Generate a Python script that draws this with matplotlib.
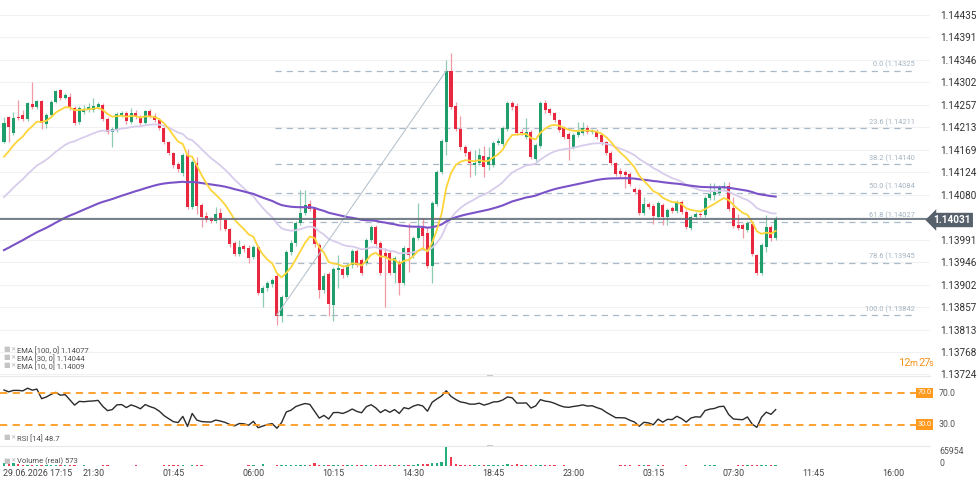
import numpy as np
import matplotlib.pyplot as plt
from matplotlib.patches import Rectangle
from matplotlib.transforms import blended_transform_factory

plt.rcParams['font.family'] = ['Roboto', 'DejaVu Sans']

W, H = 977, 492

# 15 minute EUR/USD candles, 29.06.2026 16:45 -> 30.06.2026 09:45
opens = [
    1.14184, 1.14233, 1.14202, 1.14233, 1.14237, 1.14229, 1.14259, 1.14253, 1.14265, 1.14219, 1.14237, 1.14263, 1.14287, 1.14271, 1.14273,
    1.14251, 1.14223, 1.14243, 1.14247, 1.14247, 1.14253, 1.14257, 1.14229, 1.14204, 1.14208, 1.14237, 1.14241, 1.14223, 1.14241, 1.14233,
    1.14221, 1.14245, 1.14235, 1.14227, 1.14211, 1.14184, 1.14162, 1.14140, 1.14122, 1.14158, 1.14055, 1.14142, 1.14059, 1.14037, 1.14033,
    1.14027, 1.14043, 1.14029, 1.14011, 1.13984, 1.13962, 1.13978, 1.13974, 1.13956, 1.13976, 1.13885, 1.13895, 1.13903, 1.13918, 1.13839,
    1.13877, 1.13966, 1.13984, 1.14023, 1.14043, 1.14061, 1.14051, 1.13980, 1.13891, 1.13922, 1.13861, 1.13930, 1.13932, 1.13920, 1.13940,
    1.13968, 1.13950, 1.13944, 1.13990, 1.14015, 1.13984, 1.13964, 1.13964, 1.13924, 1.13946, 1.13905, 1.13974, 1.13958, 1.13994, 1.14013,
    1.14003, 1.13938, 1.14061, 1.14124, 1.14184, 1.14325, 1.14255, 1.14210, 1.14174, 1.14164, 1.14138, 1.14142, 1.14156, 1.14138, 1.14138,
    1.14182, 1.14180, 1.14210, 1.14261, 1.14255, 1.14204, 1.14194, 1.14204, 1.14150, 1.14176, 1.14261, 1.14249, 1.14241, 1.14227, 1.14212,
    1.14200, 1.14174, 1.14198, 1.14202, 1.14212, 1.14204, 1.14206, 1.14198, 1.14184, 1.14162, 1.14142, 1.14126, 1.14124, 1.14120, 1.14091,
    1.14089, 1.14043, 1.14061, 1.14057, 1.14035, 1.14059, 1.14035, 1.14053, 1.14047, 1.14065, 1.14045, 1.14013, 1.14035, 1.14041, 1.14039,
    1.14073, 1.14079, 1.14083, 1.14095, 1.14097, 1.14053, 1.14019, 1.14019, 1.14009, 1.14021, 1.13960, 1.13924, 1.13976, 1.14015, 1.13995,
]
highs = [
    1.14233, 1.14236, 1.14243, 1.14267, 1.14247, 1.14263, 1.14303, 1.14267, 1.14267, 1.14241, 1.14267, 1.14287, 1.14289, 1.14281, 1.14281,
    1.14255, 1.14255, 1.14257, 1.14261, 1.14271, 1.14263, 1.14261, 1.14233, 1.14214, 1.14243, 1.14245, 1.14245, 1.14251, 1.14247, 1.14237,
    1.14247, 1.14249, 1.14241, 1.14231, 1.14213, 1.14186, 1.14164, 1.14144, 1.14162, 1.14170, 1.14148, 1.14154, 1.14063, 1.14045, 1.14035,
    1.14055, 1.14053, 1.14033, 1.14013, 1.13988, 1.13990, 1.13982, 1.13980, 1.13980, 1.13980, 1.13899, 1.13909, 1.13915, 1.13924, 1.13881,
    1.13970, 1.13990, 1.14027, 1.14089, 1.14089, 1.14069, 1.14055, 1.13984, 1.13924, 1.13926, 1.13936, 1.13960, 1.13936, 1.13944, 1.13972,
    1.13972, 1.13954, 1.13994, 1.14019, 1.14019, 1.13988, 1.13974, 1.13970, 1.13958, 1.13950, 1.13978, 1.14023, 1.13998, 1.14063, 1.14033,
    1.14013, 1.14067, 1.14128, 1.14190, 1.14346, 1.14360, 1.14263, 1.14235, 1.14178, 1.14168, 1.14168, 1.14172, 1.14176, 1.14174, 1.14186,
    1.14192, 1.14216, 1.14265, 1.14265, 1.14261, 1.14210, 1.14231, 1.14208, 1.14182, 1.14265, 1.14267, 1.14251, 1.14243, 1.14229, 1.14216,
    1.14204, 1.14202, 1.14223, 1.14223, 1.14218, 1.14210, 1.14210, 1.14200, 1.14186, 1.14166, 1.14144, 1.14132, 1.14128, 1.14124, 1.14095,
    1.14093, 1.14075, 1.14065, 1.14061, 1.14067, 1.14063, 1.14053, 1.14057, 1.14069, 1.14069, 1.14049, 1.14039, 1.14045, 1.14045, 1.14077,
    1.14102, 1.14102, 1.14099, 1.14104, 1.14104, 1.14075, 1.14041, 1.14023, 1.14027, 1.14025, 1.13962, 1.13984, 1.14039, 1.14019, 1.14037,
]
lows = [
    1.14182, 1.14184, 1.14198, 1.14227, 1.14226, 1.14226, 1.14249, 1.14250, 1.14209, 1.14211, 1.14233, 1.14261, 1.14267, 1.14269, 1.14247,
    1.14217, 1.14219, 1.14239, 1.14243, 1.14243, 1.14249, 1.14225, 1.14200, 1.14174, 1.14204, 1.14233, 1.14219, 1.14219, 1.14229, 1.14217,
    1.14219, 1.14231, 1.14223, 1.14207, 1.14180, 1.14158, 1.14132, 1.14124, 1.14116, 1.14051, 1.14051, 1.14041, 1.14015, 1.14025, 1.14023,
    1.14023, 1.14009, 1.14007, 1.13976, 1.13958, 1.13958, 1.13966, 1.13944, 1.13952, 1.13881, 1.13857, 1.13889, 1.13897, 1.13821, 1.13827,
    1.13873, 1.13960, 1.13978, 1.14019, 1.14039, 1.14047, 1.13976, 1.13875, 1.13885, 1.13839, 1.13829, 1.13895, 1.13914, 1.13916, 1.13934,
    1.13936, 1.13920, 1.13940, 1.13986, 1.13978, 1.13920, 1.13857, 1.13920, 1.13906, 1.13881, 1.13901, 1.13926, 1.13954, 1.13990, 1.13970,
    1.13934, 1.13905, 1.14057, 1.14120, 1.14158, 1.14249, 1.14206, 1.14168, 1.14156, 1.14114, 1.14118, 1.14138, 1.14114, 1.14128, 1.14134,
    1.14178, 1.14176, 1.14206, 1.14247, 1.14198, 1.14198, 1.14190, 1.14150, 1.14146, 1.14172, 1.14241, 1.14237, 1.14223, 1.14204, 1.14190,
    1.14148, 1.14170, 1.14194, 1.14198, 1.14200, 1.14200, 1.14190, 1.14178, 1.14158, 1.14138, 1.14116, 1.14114, 1.14093, 1.14096, 1.14081,
    1.14039, 1.14039, 1.14051, 1.14021, 1.14031, 1.14019, 1.14019, 1.14043, 1.14043, 1.14041, 1.14011, 1.14009, 1.14031, 1.14035, 1.14035,
    1.14069, 1.14069, 1.14079, 1.14091, 1.14047, 1.14013, 1.14009, 1.13995, 1.14005, 1.13958, 1.13920, 1.13920, 1.13966, 1.13988, 1.13991,
]
closes = [
    1.14222, 1.14213, 1.14231, 1.14231, 1.14229, 1.14261, 1.14253, 1.14265, 1.14221, 1.14237, 1.14263, 1.14285, 1.14271, 1.14277, 1.14251,
    1.14221, 1.14251, 1.14249, 1.14253, 1.14255, 1.14259, 1.14229, 1.14204, 1.14210, 1.14239, 1.14241, 1.14225, 1.14241, 1.14233, 1.14221,
    1.14245, 1.14235, 1.14227, 1.14211, 1.14184, 1.14162, 1.14138, 1.14130, 1.14158, 1.14055, 1.14144, 1.14057, 1.14035, 1.14029, 1.14027,
    1.14041, 1.14029, 1.14011, 1.13982, 1.13962, 1.13976, 1.13972, 1.13954, 1.13976, 1.13885, 1.13895, 1.13905, 1.13910, 1.13839, 1.13877,
    1.13966, 1.13984, 1.14023, 1.14043, 1.14059, 1.14051, 1.13982, 1.13891, 1.13918, 1.13863, 1.13932, 1.13934, 1.13920, 1.13940, 1.13968,
    1.13940, 1.13924, 1.13990, 1.14015, 1.13982, 1.13924, 1.13956, 1.13924, 1.13954, 1.13905, 1.13974, 1.13960, 1.13994, 1.14013, 1.13999,
    1.13938, 1.14063, 1.14124, 1.14186, 1.14325, 1.14253, 1.14210, 1.14174, 1.14162, 1.14142, 1.14142, 1.14158, 1.14134, 1.14154, 1.14182,
    1.14186, 1.14212, 1.14261, 1.14253, 1.14202, 1.14202, 1.14204, 1.14154, 1.14178, 1.14261, 1.14247, 1.14241, 1.14227, 1.14208, 1.14194,
    1.14190, 1.14198, 1.14204, 1.14212, 1.14204, 1.14206, 1.14194, 1.14184, 1.14162, 1.14142, 1.14120, 1.14120, 1.14118, 1.14100, 1.14085,
    1.14043, 1.14061, 1.14055, 1.14037, 1.14063, 1.14035, 1.14049, 1.14047, 1.14063, 1.14045, 1.14015, 1.14035, 1.14041, 1.14039, 1.14073,
    1.14081, 1.14085, 1.14095, 1.14097, 1.14051, 1.14017, 1.14013, 1.14011, 1.14023, 1.13962, 1.13924, 1.13980, 1.14015, 1.13995, 1.14031,
]
volumes = [
    9000, 7000, 11000, 6000, 5000, 4000, 3000, 4000, 3000, 5000, 3000, 4000, 3000, 3000, 2500,
    2500, 0, 2500, 0, 0, 0, 2500, 2500, 0, 0, 0, 0, 0, 2500, 0,
    0, 0, 0, 0, 2500, 2500, 2500, 3500, 2500, 0, 2500, 2500, 2500, 0, 0,
    0, 0, 0, 0, 0, 0, 0, 2500, 3000, 0, 6000, 0, 0, 4500, 4500,
    4500, 4500, 4500, 4000, 3500, 4000, 9000, 3500, 3500, 3000, 3500, 3000, 4000, 3000, 3500,
    3500, 3000, 4000, 3000, 3500, 4500, 4000, 4000, 5000, 4500, 4000, 4500, 5000, 6000, 6000,
    5500, 9000, 11000, 14000, 65954, 30000, 7000, 5000, 5000, 4500, 3500, 3000, 3000, 4000, 3500,
    3500, 4000, 6000, 4000, 7000, 4500, 3000, 3500, 3000, 5000, 4000, 3500, 3000, 0, 2500,
    0, 0, 0, 0, 0, 0, 0, 0, 0, 0, 0, 2500, 2500, 3000, 0,
    2500, 2500, 2500, 0, 2500, 2500, 0, 0, 0, 0, 2500, 0, 0, 0, 3000,
    3000, 2500, 0, 0, 0, 0, 2500, 2500, 3000, 2500, 3500, 3000, 3500, 2500, 3000,
]

# indicator values carried in from before the first visible bar
ema_start = {100: 1.13965, 30: 1.14065, 10: 1.14140}
rsi_start_gain, rsi_start_loss = 0.00014, 0.00006

# values printed in the indicator legends
legend_ema = {100: 1.14077, 30: 1.14044, 10: 1.14009}
legend_rsi = 48.7
legend_volume = 573

price_ticks = [1.14435, 1.14391, 1.14346, 1.14302, 1.14257, 1.14213, 1.14169, 1.14124, 1.14080,
               1.14035, 1.13991, 1.13946, 1.13902, 1.13857, 1.13813, 1.13768, 1.13724]
fib_pcts = [0.0, 23.6, 38.2, 50.0, 61.8, 78.6, 100.0]
fib_high, fib_low = 1.14325, 1.13842
fib_from, fib_to = 58, 94
time_idx = [2, 19, 36, 53, 70, 87, 104, 121, 138, 155, 172, 189]
time_labels = ['29.06.2026 17:15', '21:30', '01:45', '06:00', '10:15', '14:30',
               '18:45', '23:00', '03:15', '07:30', '11:45', '16:00']

o = np.array(opens); h = np.array(highs); l = np.array(lows); c = np.array(closes)
v = np.array(volumes)
n = len(c)
idx = np.arange(n)
up = c >= o

GREEN, RED = '#1f9d6b', '#e8283f'
GREEN_W, RED_W = '#8fcbb0', '#f09aa5'


def ema(values, period, start):
    a = 2 / (period + 1)
    out, prev = [], start
    for x in values:
        prev = prev + a * (x - prev)
        out.append(prev)
    return np.array(out)


def rsi(values, first_prev, g0, l0, period=14):
    out, ag, al, prev = [], g0, l0, first_prev
    for x in values:
        d = x - prev
        ag = (ag * (period - 1) + max(d, 0)) / period
        al = (al * (period - 1) + max(-d, 0)) / period
        out.append(100 - 100 / (1 + ag / al))
        prev = x
    return np.array(out)


def fpos(x, y):
    return x / W, 1 - y / H


def legend_row(y, text):
    fig.text(*fpos(3, y), '■', fontsize=5, color='#c4c4c4', va='center')
    fig.text(*fpos(10, y), '✕', fontsize=4.5, color='#b0b0b0', va='center')
    fig.text(*fpos(17, y), text, fontsize=5.5, color='#4d4d4d', va='center')


fig = plt.figure(figsize=(W / 100, H / 100), dpi=100)
fig.patch.set_facecolor('white')
plot_w = 930 / W
ax = fig.add_axes([0, 1 - 376 / H, plot_w, 376 / H])
ax_rsi = fig.add_axes([0, 1 - 445 / H, plot_w, 67 / H])
ax_vol = fig.add_axes([0, 1 - 466 / H, plot_w, 20 / H])
xlim = (-0.85, 196.8)
for a in (ax, ax_rsi, ax_vol):
    a.set_xlim(*xlim)
    for s in a.spines.values():
        s.set_visible(False)
    a.set_xticks([])
    a.patch.set_alpha(0)

# ---- price panel
ax.set_ylim(1.13721, 1.14465)
ax.yaxis.tick_right()
ax.set_yticks(price_ticks)
ax.set_yticklabels([f'{t:.5f}' if abs(t - 1.14035) > 1e-6 else '' for t in price_ticks])
ax.tick_params(axis='y', length=0, pad=7, labelsize=7.2, labelcolor='#333333')
ax.grid(axis='y', color='#f1f1f1', lw=0.8)
ax.set_axisbelow(True)

ax.vlines(idx, l, h, colors=np.where(up, GREEN_W, RED_W), lw=0.9, zorder=2)
ax.bar(idx, np.maximum(np.abs(c - o), 0.000014), bottom=np.minimum(o, c), width=0.64,
       color=np.where(up, GREEN, RED), lw=0, zorder=3)

ax.plot(idx, ema(c, 30, ema_start[30]), color='#d8ccec', lw=1.3, zorder=4)
ax.plot(idx, ema(c, 100, ema_start[100]), color='#7b52c7', lw=1.5, zorder=4)
ax.plot(idx, ema(c, 10, ema_start[10]), color='#fdd53a', lw=1.3, zorder=5)

# fibonacci retracement
ax.plot([fib_from, fib_to], [fib_low, fib_high], color='#b8c4ce', lw=0.8, zorder=4)
for p in fib_pcts:
    lvl = fib_high - (fib_high - fib_low) * p / 100
    ax.hlines(lvl, fib_from - 0.3, 193.6, colors='#a9b9c7', lw=0.9, linestyles=(0, (5, 4)), zorder=1)
    ax.text(193.6, lvl + 0.00004, f'{p:.1f} ({lvl:.5f}', ha='right', va='bottom',
            fontsize=5.3, color='#a3b3c1')

last = closes[-1]
ax.axhline(last, color='#5d6975', lw=1.2, zorder=6)
fig.text(*fpos(952, 220), f'{last:.5f}', ha='center', va='center', fontsize=7.2,
         color='white', fontweight='bold',
         bbox=dict(boxstyle='larrow,pad=0.22', fc='#56616c', ec='none'))

# indicator legend
for y, p in zip((350, 358, 366), (100, 30, 10)):
    legend_row(y, f'EMA [{p}, 0] {legend_ema[p]:.5f}')

# bar countdown
for x, t, fs in [(898, '12', 8), (909, 'm', 6.5), (918, '27', 8), (929, 's', 6.5)]:
    fig.text(*fpos(x, 363), t, fontsize=fs, color='#f5921e', va='center')

# panel separators
for y in (376, 446):
    fig.add_artist(plt.Line2D([0, plot_w], [1 - y / H] * 2, color='#e8e8e8', lw=0.8))
    fig.add_artist(Rectangle(fpos(487, y + 1), 6 / W, 2 / H, color='#c8c8c8', lw=0))

# ---- RSI panel
r = rsi(c, o[0], rsi_start_gain, rsi_start_loss)
ax_rsi.set_ylim(3.97, 89.05)
ax_rsi.set_yticks([])
ax_rsi.plot(idx, r, color='#2b2b2b', lw=1.0)
for lvl in (70, 30):
    ax_rsi.axhline(lvl, color='#ff9a1f', lw=1.3, ls=(0, (4, 3)))
    yy = 393 if lvl == 70 else 424.5
    fig.text(*fpos(924.5, yy), f'{lvl:.1f}', ha='center', va='center', fontsize=5.2, color='white',
             bbox=dict(boxstyle='square,pad=0.25', fc='#ff9a1f', ec='none'))
    fig.text(*fpos(939, yy), f'{lvl:.1f}', va='center', fontsize=6.3, color='#555555')
legend_row(438, f'RSI [14] {legend_rsi:.1f}')

# ---- volume panel
ax_vol.set_ylim(0, max(volumes) * 20 / 19)
ax_vol.set_yticks([])
ax_vol.bar(idx, v, width=0.5, color=np.where(up, '#22b07a', '#ef3b4f'), lw=0)
fig.text(*fpos(939, 451), f'{max(volumes)}', va='center', fontsize=6.3, color='#555555')
fig.text(*fpos(939, 464), '0', va='center', fontsize=6.3, color='#555555')
legend_row(461, f'Volume (real) {legend_volume}')

tr = blended_transform_factory(ax_vol.transData, fig.transFigure)
for i, lab in zip(time_idx, time_labels):
    first = i == time_idx[0]
    ax_vol.text(-0.2 if first else i, 1 - 473 / H, lab, transform=tr, ha='left' if first else 'center',
                va='center', fontsize=6.4, color='#444444', clip_on=False)

fig.savefig('out.png', dpi=100)
